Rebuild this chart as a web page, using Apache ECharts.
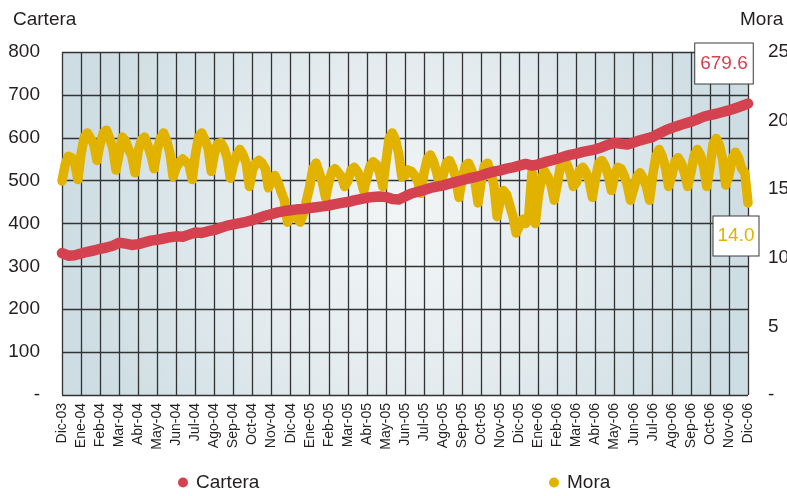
<!DOCTYPE html>
<html>
<head>
<meta charset="utf-8">
<script src="https://cdn.jsdelivr.net/npm/echarts@6/dist/echarts.min.js"></script>
<style>
  html, body { margin: 0; padding: 0; background: #ffffff; }
  #chart { width: 787px; height: 496px; }
</style>
</head>
<body>
<div id="chart"></div>
<script>
// Month ticks along the bottom axis
const meses = [
  'Dic-03','Ene-04','Feb-04','Mar-04','Abr-04','May-04','Jun-04','Jul-04','Ago-04','Sep-04','Oct-04','Nov-04',
  'Dic-04','Ene-05','Feb-05','Mar-05','Abr-05','May-05','Jun-05','Jul-05','Ago-05','Sep-05','Oct-05','Nov-05',
  'Dic-05','Ene-06','Feb-06','Mar-06','Abr-06','May-06','Jun-06','Jul-06','Ago-06','Sep-06','Oct-06','Nov-06',
  'Dic-06'
];

// Cartera: three readings per month, plus the closing value
const cartera = [
  331, 325, 326,   330, 334, 337,   341, 344, 348,   355, 353, 350,
  352, 356, 360,   362, 365, 368,   370, 369, 374,   379, 378, 382,
  385, 390, 395,   398, 401, 404,   408, 413, 418,   422, 426, 429,
  431, 433, 434,   436, 438, 440,   442, 445, 448,   450, 454, 457,
  460, 462, 463,   462, 457, 456,   463, 470, 474,   478, 483, 486,
  489, 493, 497,   501, 505, 508,   512, 517, 521,   524, 528, 531,
  535, 539, 535,   538, 543, 547,   551, 556, 560,   563, 567, 570,
  573, 578, 584,   588, 586, 584,   589, 594, 598,   602, 610, 617,
  623, 628, 633,   637, 643, 649,   653, 656, 660,   664, 669, 674,
  679.6
];

// Mora: six readings per month, plus the closing value
const mora = [
  15.6, 16.8, 17.4, 17.3, 16.9, 15.7,
  17.6, 18.8, 19.1, 18.7, 18.3, 17.1,
  18.3, 19.1, 19.3, 18.7, 18.0, 16.4,
  17.6, 18.8, 18.5, 17.9, 17.4, 16.2,
  17.8, 18.6, 18.8, 18.2, 17.5, 16.5,
  17.9, 18.7, 19.1, 18.5, 17.6, 15.9,
  16.6, 17.0, 17.2, 17.0, 16.8, 15.7,
  17.5, 18.8, 19.1, 18.6, 18.0, 16.3,
  17.6, 18.3, 18.4, 18.0, 17.3, 15.8,
  16.8, 17.5, 17.9, 17.5, 16.9, 15.2,
  16.4, 16.9, 17.1, 16.9, 16.5, 15.1,
  15.6, 16.0, 15.5, 14.8, 14.2, 12.6,
  13.0, 13.5, 12.9, 12.6, 13.2, 14.2,
  15.2, 16.5, 16.9, 16.2, 15.5, 14.4,
  15.5, 16.3, 16.5, 16.2, 15.9, 15.2,
  15.6, 16.4, 16.6, 16.3, 15.8, 14.9,
  15.8, 16.7, 17.0, 16.8, 16.2, 15.2,
  17.0, 18.7, 19.1, 18.6, 17.6, 15.9,
  16.0, 16.4, 16.3, 16.0, 15.6, 14.7,
  16.2, 17.2, 17.5, 17.0, 16.2, 15.2,
  16.0, 16.9, 17.1, 16.6, 15.8, 14.4,
  15.8, 16.7, 16.9, 16.4, 15.6, 14.0,
  15.6, 16.7, 16.9, 16.2, 15.3, 13.0,
  14.2, 14.9, 14.6, 13.8, 13.0, 11.8,
  12.3, 12.8, 12.5, 13.2, 16.3, 12.5,
  14.5, 15.8, 16.3, 15.9, 15.3, 14.2,
  15.4, 16.8, 17.3, 16.8, 16.2, 15.2,
  15.5, 16.4, 16.6, 16.2, 15.6, 14.4,
  15.8, 16.9, 17.1, 16.7, 16.0, 14.9,
  16.0, 16.6, 16.5, 16.0, 15.3, 14.2,
  15.0, 15.9, 16.2, 15.8, 15.2, 14.2,
  16.0, 17.4, 17.9, 17.4, 16.6, 15.2,
  16.0, 17.0, 17.3, 16.9, 16.2, 15.2,
  16.2, 17.4, 17.9, 17.5, 16.7, 15.2,
  16.5, 18.3, 18.7, 18.2, 17.2, 15.3,
  16.0, 17.2, 17.7, 17.3, 16.5, 16.2,
  14.0
];

const CARTERA_POR_MES = 3;
const MORA_POR_MES = 6;

const ROJO = '#d5424f';
const ORO = '#e1b300';
const TEXTO = '#231f20';
const FUENTE = '"Liberation Sans", Arial, sans-serif';

const serieCartera = cartera.map((v, i) => [i / CARTERA_POR_MES, v]);
const serieMora = mora.map((v, i) => [i / MORA_POR_MES, v]);

const ultimaCartera = cartera[cartera.length - 1];
const ultimaMora = mora[mora.length - 1];

// Boxed value label shown next to the last point of a series
function etiquetaFinal(color, offset, padding) {
  return {
    show: true,
    position: 'inside',
    offset: offset,
    formatter: p => Number(p.value).toFixed(1),
    color: color,
    fontFamily: FUENTE,
    fontSize: 19,
    lineHeight: 20,
    backgroundColor: '#ffffff',
    borderColor: '#3a3a3a',
    borderWidth: 1,
    padding: padding
  };
}

const chart = echarts.init(document.getElementById('chart'), null, { renderer: 'canvas' });

chart.setOption({
  animation: false,
  backgroundColor: '#ffffff',
  textStyle: { fontFamily: FUENTE },
  title: [
    { text: 'Cartera', left: 8, top: 5,
      textStyle: { fontFamily: FUENTE, fontSize: 19, fontWeight: 'normal', color: TEXTO } },
    { text: 'Mora', left: 735, top: 5,
      textStyle: { fontFamily: FUENTE, fontSize: 19, fontWeight: 'normal', color: TEXTO } }
  ],
  legend: [
    { data: ['Cartera'], left: 173, top: 468, icon: 'circle', itemWidth: 10, itemHeight: 10, itemGap: 0,
      textStyle: { fontFamily: FUENTE, fontSize: 19, color: TEXTO, padding: [0, 0, 0, 3] } },
    { data: ['Mora'], left: 544, top: 468, icon: 'circle', itemWidth: 10, itemHeight: 10, itemGap: 0,
      textStyle: { fontFamily: FUENTE, fontSize: 19, color: TEXTO, padding: [0, 0, 0, 3] } }
  ],
  grid: {
    left: 62, right: 39, top: 52, bottom: 101,
    outerBoundsMode: 'none',
    containLabel: false,
    show: true,
    borderWidth: 0,
    backgroundColor: {
      type: 'radial', x: 0.5, y: 0.5, r: 1.0,
      colorStops: [
        { offset: 0, color: '#f2f5f6' },
        { offset: 0.5, color: '#e3ebee' },
        { offset: 1, color: '#cddde3' }
      ]
    }
  },
  xAxis: {
    type: 'value',
    min: 0, max: meses.length - 1, interval: 1,
    axisLine: { show: false },
    axisTick: { show: false },
    splitLine: { show: true, lineStyle: { color: '#333333', width: 1.3 } },
    axisLabel: {
      rotate: 90,
      margin: 8,
      fontFamily: FUENTE,
      fontSize: 14,
      color: TEXTO,
      showMinLabel: true,
      showMaxLabel: true,
      formatter: v => meses[Math.round(v)] || ''
    }
  },
  yAxis: [
    {
      type: 'value', min: 0, max: 800, interval: 100,
      axisLine: { show: false },
      axisTick: { show: false },
      splitLine: { show: true, lineStyle: { color: '#333333', width: 1.3 } },
      axisLabel: {
        margin: 22, fontFamily: FUENTE, fontSize: 19, color: TEXTO,
        formatter: v => (v === 0 ? '-' : String(v))
      }
    },
    {
      type: 'value', min: 0, max: 25, interval: 5, position: 'right',
      axisLine: { show: false },
      axisTick: { show: false },
      splitLine: { show: false },
      axisLabel: {
        margin: 20, fontFamily: FUENTE, fontSize: 19, color: TEXTO,
        formatter: v => (v === 0 ? '-' : String(v))
      }
    }
  ],
  series: [
    {
      name: 'Mora',
      type: 'line',
      yAxisIndex: 1,
      data: serieMora,
      showSymbol: false,
      color: ORO,
      lineStyle: { color: ORO, width: 9.5, cap: 'round', join: 'round' },
      z: 3,
      markPoint: {
        symbol: 'circle', symbolSize: 1,
        itemStyle: { color: 'rgba(0,0,0,0)' },
        label: etiquetaFinal(ORO, [-12, 33], [9, 4, 10, 4]),
        data: [{ coord: [meses.length - 1, ultimaMora], value: ultimaMora }]
      }
    },
    {
      name: 'Cartera',
      type: 'line',
      yAxisIndex: 0,
      data: serieCartera,
      showSymbol: false,
      color: ROJO,
      lineStyle: { color: ROJO, width: 10.5, cap: 'round', join: 'round' },
      z: 4,
      markPoint: {
        symbol: 'circle', symbolSize: 1,
        itemStyle: { color: 'rgba(0,0,0,0)' },
        label: etiquetaFinal(ROJO, [-24, -40], [8, 5, 12, 5]),
        data: [{ coord: [meses.length - 1, ultimaCartera], value: ultimaCartera }]
      }
    }
  ]
});
</script>
</body>
</html>
